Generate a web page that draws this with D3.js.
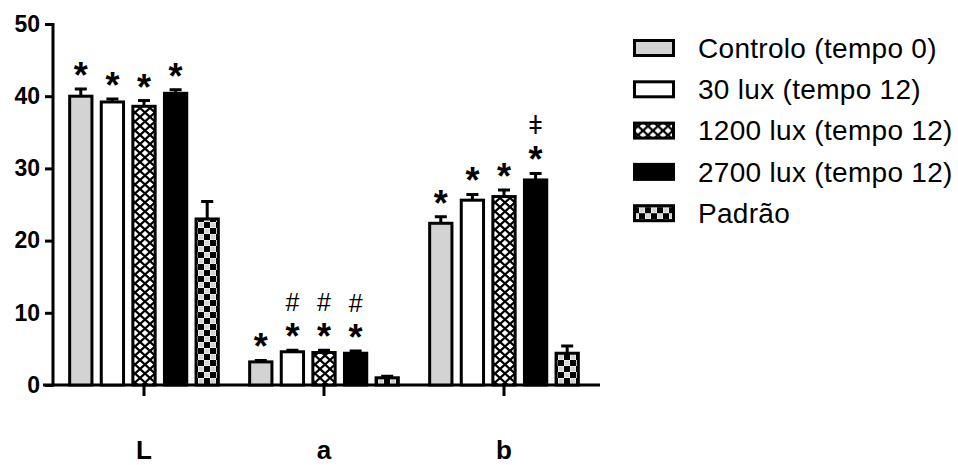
<!DOCTYPE html>
<html>
<head>
<meta charset="utf-8">
<script src="https://cdn.jsdelivr.net/npm/d3@7"></script>
<style>
body { margin: 0; background: #fff; }
</style>
</head>
<body>
<script>
// categories on the x axis and the five series
const groups = ["L", "a", "b"];
const series = ["Controlo (tempo 0)", "30 lux (tempo 12)", "1200 lux (tempo 12)", "2700 lux (tempo 12)", "Padrão"];

// mean values, in series order
const valL = [40.0, 39.2, 38.6, 40.4, 23.0];
const valA = [3.2, 4.6, 4.5, 4.4, 1.0];
const valB = [22.4, 25.6, 26.1, 28.4, 4.4];

// upper error bars
const errL = [1.0, 0.4, 0.8, 0.5, 2.4];
const errA = [0.2, 0.2, 0.3, 0.3, 0.2];
const errB = [0.9, 0.8, 0.9, 0.9, 1.0];

// significance marks: the star, and the symbol above it
const starL = ["*", "*", "*", "*", ""];
const starA = ["*", "*", "*", "*", ""];
const starB = ["*", "*", "*", "*", ""];
const markL = ["", "", "", "", ""];
const markA = ["", "#", "#", "#", ""];
const markB = ["", "", "", "ǂ", ""];

const yTicks = [0, 10, 20, 30, 40, 50];

const values = { L: valL, a: valA, b: valB };
const errors = { L: errL, a: errA, b: errB };
const stars = { L: starL, a: starA, b: starB };
const marks = { L: markL, a: markA, b: markB };

const rows = [];
groups.forEach(function(g) {
    series.forEach(function(s, i) {
        rows.push({ group: g, series: s, idx: i, value: values[g][i], err: errors[g][i], star: stars[g][i], mark: marks[g][i] });
    });
});

const width = 958, height = 465;
const font = "'Liberation Sans', Arial, sans-serif";

const svg = d3.select("body")
    .append("svg")
    .attr("width", width)
    .attr("height", height);

// patterns for the hatched series
const defs = svg.append("defs");
const cross = defs.append("pattern")
    .attr("id", "cross")
    .attr("patternUnits", "userSpaceOnUse")
    .attr("width", 10)
    .attr("height", 9);
cross.append("rect").attr("width", 10).attr("height", 9).attr("fill", "#fff");
cross.append("path")
    .attr("d", "M0,0L10,9M10,0L0,9")
    .attr("stroke", "#000")
    .attr("stroke-width", 2.2);

const check = defs.append("pattern")
    .attr("id", "check")
    .attr("patternUnits", "userSpaceOnUse")
    .attr("width", 12)
    .attr("height", 12);
check.append("rect").attr("width", 12).attr("height", 12).attr("fill", "#fff");
check.append("rect").attr("x", 0.5).attr("y", 0.5).attr("width", 5).attr("height", 5).attr("fill", "#d3d3d3");
check.append("rect").attr("x", 6.5).attr("y", 6.5).attr("width", 5).attr("height", 5).attr("fill", "#d3d3d3");
check.append("rect").attr("x", 6).attr("y", 0).attr("width", 6).attr("height", 6).attr("fill", "#000");
check.append("rect").attr("x", 0).attr("y", 6).attr("width", 6).attr("height", 6).attr("fill", "#000");

const fills = ["#d3d3d3", "#ffffff", "url(#cross)", "#000000", "url(#check)"];

// scales
const x = d3.scaleBand()
    .domain(groups)
    .range([54, 594]);

const xSub = d3.scaleBand()
    .domain(series)
    .range([-79, 79])
    .paddingInner(0.2)
    .paddingOuter(0.1);

const y = d3.scaleLinear()
    .domain([0, 50])
    .range([385, 24]);

// y axis
const yAxis = svg.append("g")
    .attr("transform", "translate(53,0)")
    .call(d3.axisLeft(y).tickValues(yTicks).tickSize(8).tickSizeOuter(0).tickPadding(5));
yAxis.select(".domain").attr("stroke-width", 3).attr("d", "M0," + (y(50) - 1) + "V" + (y(0) + 1.5));
yAxis.selectAll(".tick line").attr("stroke-width", 3);
yAxis.selectAll("text")
    .attr("font-family", font)
    .attr("font-size", 23)
    .attr("font-weight", "bold")
    .attr("fill", "#000");

// x axis
const xAxis = svg.append("g")
    .attr("transform", "translate(0," + y(0) + ")")
    .call(d3.axisBottom(x).tickSize(11).tickSizeOuter(0).tickPadding(45));
xAxis.select(".domain").attr("stroke-width", 3).attr("d", "M43,0H600");
xAxis.selectAll(".tick line").attr("stroke-width", 3);
xAxis.selectAll("text")
    .attr("font-family", font)
    .attr("font-size", 26)
    .attr("font-weight", "bold")
    .attr("fill", "#000");

// bars
const bw = xSub.bandwidth();
const barX = d => x(d.group) + x.bandwidth() / 2 + xSub(d.series);

svg.selectAll(".bar")
    .data(rows)
    .enter().append("rect")
    .attr("class", "bar")
    .attr("x", d => barX(d) + 1.5)
    .attr("y", d => y(d.value))
    .attr("width", bw - 3)
    .attr("height", d => y(0) - y(d.value))
    .attr("fill", d => fills[d.idx])
    .attr("stroke", "#000")
    .attr("stroke-width", 3);

// error bars (upper only)
svg.selectAll(".err")
    .data(rows)
    .enter().append("path")
    .attr("class", "err")
    .attr("d", d => {
        const cx = barX(d) + bw / 2;
        return "M" + cx + "," + y(d.value) + "V" + y(d.value + d.err) +
            "M" + (cx - 6) + "," + y(d.value + d.err) + "H" + (cx + 6);
    })
    .attr("fill", "none")
    .attr("stroke", "#000")
    .attr("stroke-width", 3);

// significance: symbol on top, star below
svg.selectAll(".star")
    .data(rows.filter(d => d.star))
    .enter().append("text")
    .attr("class", "star")
    .attr("x", d => barX(d) + bw / 2)
    .attr("y", d => y(d.value + d.err) - 1)
    .attr("text-anchor", "middle")
    .attr("font-family", font)
    .attr("font-size", 36)
    .attr("font-weight", "bold")
    .text(d => d.star);

svg.selectAll(".mark")
    .data(rows.filter(d => d.mark))
    .enter().append("text")
    .attr("class", "mark")
    .attr("x", d => barX(d) + bw / 2)
    .attr("y", d => y(d.value + d.err) - 39)
    .attr("text-anchor", "middle")
    .attr("font-family", font)
    .attr("font-size", 25)
    .text(d => d.mark);

// legend
const legend = svg.selectAll(".legend")
    .data(series)
    .enter().append("g")
    .attr("class", "legend")
    .attr("transform", (d, i) => "translate(633," + (48 + i * 41.3) + ")");

legend.append("rect")
    .attr("x", 1.5)
    .attr("y", -7.5)
    .attr("width", 39)
    .attr("height", 15)
    .attr("fill", (d, i) => fills[i])
    .attr("stroke", "#000")
    .attr("stroke-width", 3);

legend.append("text")
    .attr("x", 65)
    .attr("y", 0)
    .attr("dy", "0.35em")
    .attr("font-family", font)
    .attr("font-size", 28)
    .attr("letter-spacing", 0.3)
    .text(d => d);
</script>
</body>
</html>
